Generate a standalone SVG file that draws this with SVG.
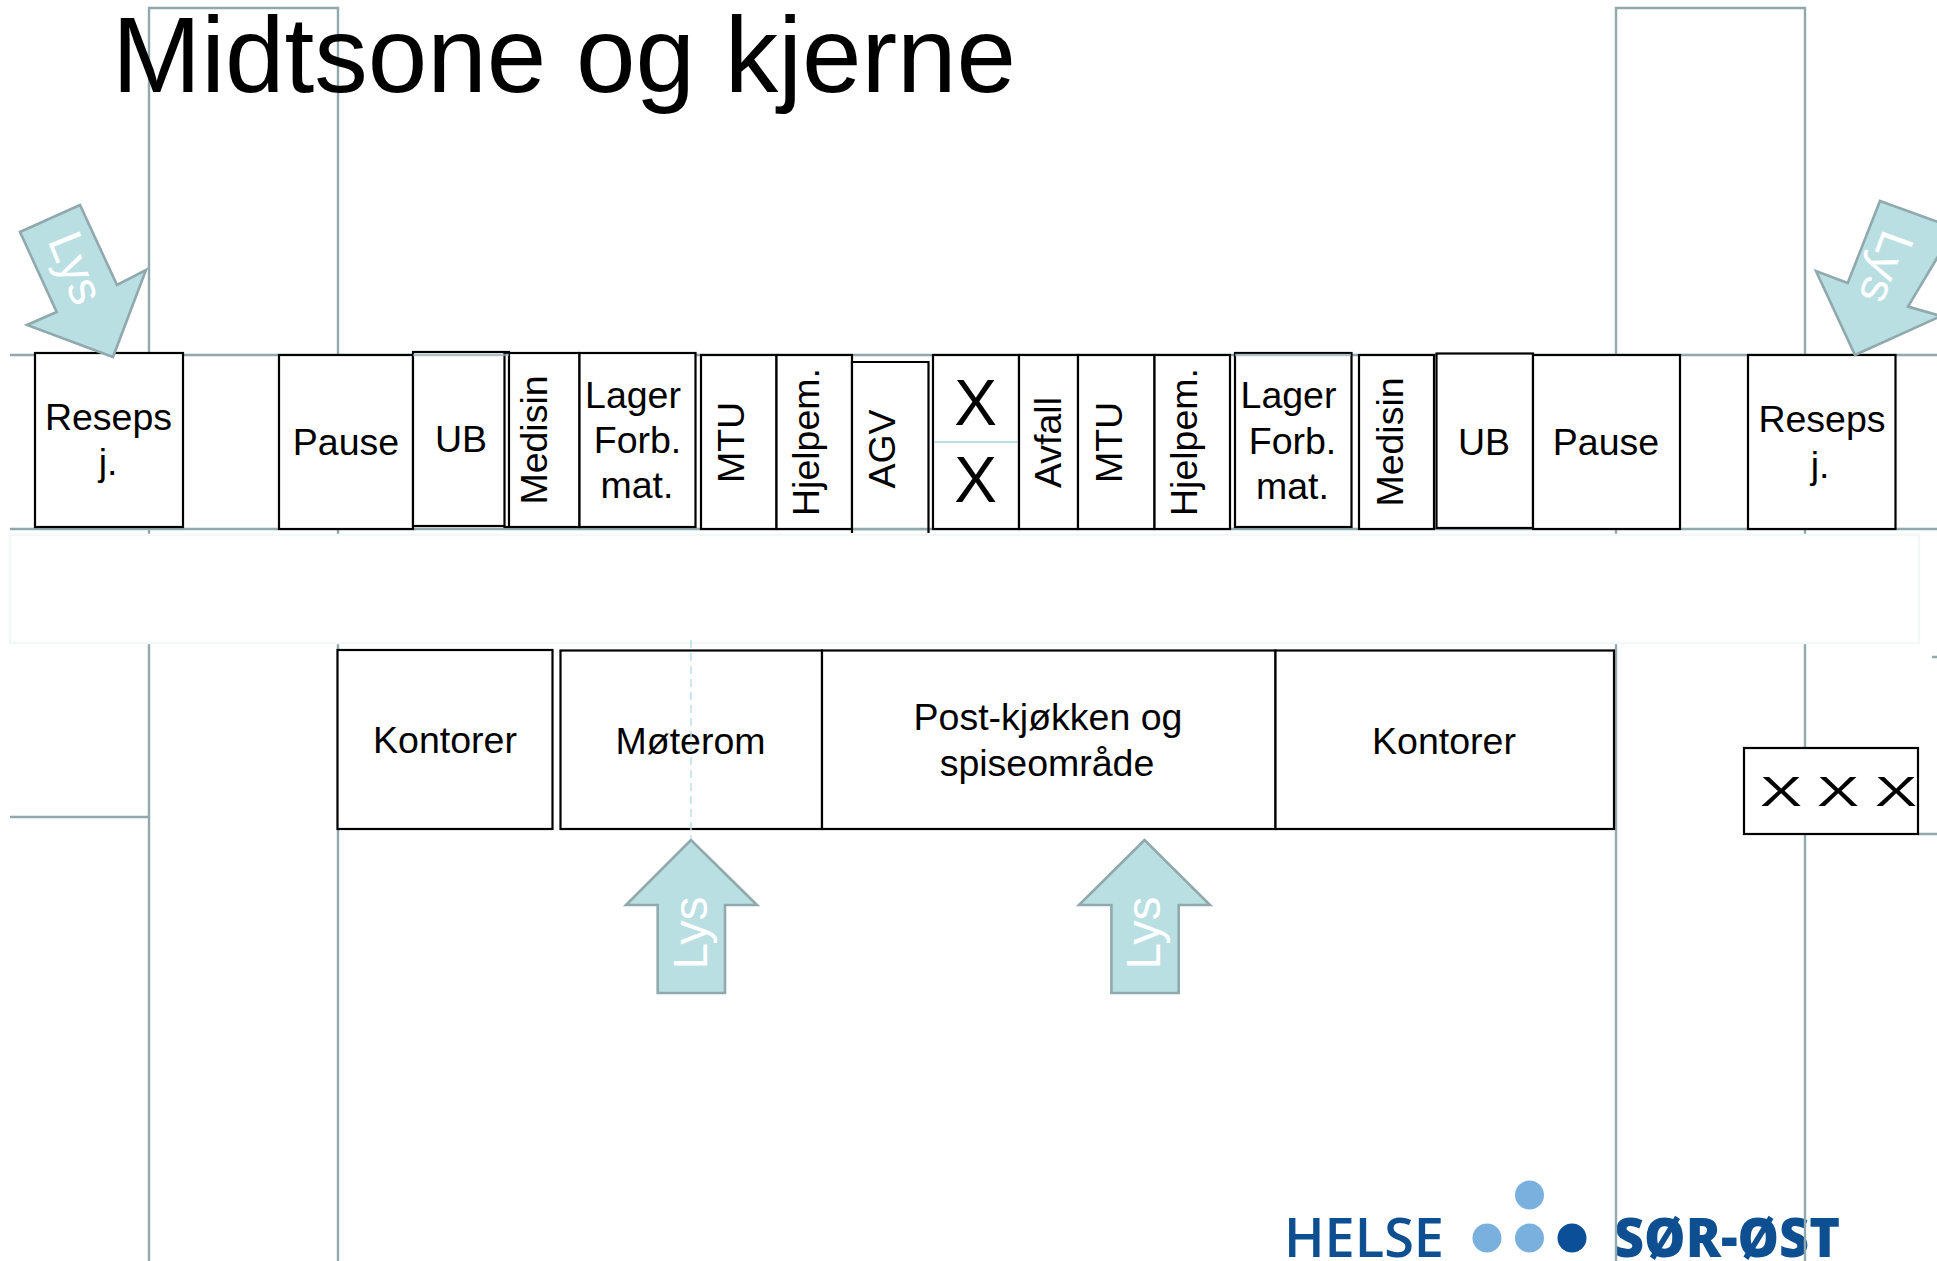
<svg xmlns="http://www.w3.org/2000/svg" width="1937" height="1261" viewBox="0 0 1937 1261">
<style>
text{font-family:"Liberation Sans",Arial,sans-serif;fill:#000;font-size:37.500px}
.c{text-anchor:middle}
.box{fill:#fff;stroke:#000;stroke-width:2.2}
.thin{fill:none;stroke:#000;stroke-width:2.2}
.wall{fill:none;stroke:#8fa9ad;stroke-width:2.4}
.arrow{fill:#b9dfe3;stroke:#8fa9ad;stroke-width:2.6;stroke-linejoin:miter}
.lys{fill:#fff;font-size:48px;text-anchor:middle}
.logo{font-family:"Open Sans","Liberation Sans",sans-serif;fill:#0d4f91;font-size:54px}
</style>
<rect width="1937" height="1261" fill="#fff"/>
<g id="logo">
<text class="logo" x="1284" y="1257" style="font-weight:600" textLength="160" lengthAdjust="spacingAndGlyphs">HELSE</text>
<text class="logo" x="1614" y="1257" style="font-weight:800" textLength="226" lengthAdjust="spacingAndGlyphs">SØR-ØST</text>
<circle cx="1529.500" cy="1195" r="14.500" fill="#7ab0de"/>
<circle cx="1487" cy="1238" r="14.500" fill="#7ab0de"/>
<circle cx="1529.500" cy="1238" r="14.500" fill="#7ab0de"/>
<circle cx="1572" cy="1238" r="14.500" fill="#0a4f97"/>
</g>
<g id="walls">
<path class="wall" d="M149 1261V8H338V1261M1616 1261V8H1805V1261"/>
<path class="wall" d="M10 355H1937M10 529H1937M10 817H149M1918 834H1937M1932 657H1937"/>
</g>
<g id="title"><text x="112" y="92" style="font-size:107px">Midtsone og kjerne</text></g>
<rect id="korridor" x="10" y="535" width="1909" height="108" fill="#fff" stroke="#f1f8f7" stroke-width="2.500"/>
<g id="reseps-v"><rect class="box" x="35" y="353" width="148" height="174"/><text class="c" x="108.500" y="430">Reseps</text><text class="c" x="108" y="475">j.</text></g>
<g id="pause-v"><rect class="box" x="279" y="355" width="134" height="174"/><text class="c" x="346" y="455">Pause</text></g>
<g id="ub-v"><rect class="box" x="413" y="352" width="96" height="174"/><text class="c" x="461" y="452">UB</text></g>
<g id="medisin-v"><rect class="box" x="504.500" y="353" width="75" height="174"/><line x1="509" y1="353" x2="509" y2="527" class="thin"/><text class="c" transform="translate(547 440) rotate(-90)">Medisin</text></g>
<g id="lager-v"><rect class="box" x="579.500" y="353" width="116" height="174"/><text class="c" x="633" y="408">Lager</text><text class="c" x="637.500" y="453">Forb.</text><text class="c" x="637" y="498">mat.</text></g>
<g id="mtu-1"><rect class="box" x="701" y="355" width="75.500" height="174"/><text class="c" transform="translate(744 442.500) rotate(-90)">MTU</text></g>
<g id="hjelpem-1"><rect class="box" x="776.500" y="355" width="75.500" height="174"/><text class="c" transform="translate(818.500 442) rotate(-90)">Hjelpem.</text></g>
<g id="agv"><rect x="852" y="362" width="76.500" height="167" fill="#fff"/><line class="wall" x1="852" y1="529" x2="928.500" y2="529"/><path class="thin" d="M852 533V362H928.500V533"/><text class="c" transform="translate(894.500 449) rotate(-90)">AGV</text></g>
<g id="x-boks"><rect class="box" x="933" y="355" width="86" height="174"/><line x1="934" y1="442" x2="1018" y2="442" stroke="#b9dfe3" stroke-width="2"/><text class="c" x="975.500" y="425" style="font-size:64px">X</text><text class="c" x="975.500" y="502" style="font-size:64px">X</text></g>
<g id="avfall"><rect class="box" x="1019" y="355" width="59" height="174"/><text class="c" transform="translate(1061 442.500) rotate(-90)">Avfall</text></g>
<g id="mtu-2"><rect class="box" x="1078" y="355" width="76.500" height="174"/><text class="c" transform="translate(1122 442.500) rotate(-90)">MTU</text></g>
<g id="hjelpem-2"><rect class="box" x="1154.500" y="355" width="75.500" height="174"/><text class="c" transform="translate(1196.500 442) rotate(-90)">Hjelpem.</text></g>
<g id="lager-h"><rect class="box" x="1235" y="353" width="116.500" height="174"/><text class="c" x="1288.500" y="408">Lager</text><text class="c" x="1292.500" y="454">Forb.</text><text class="c" x="1292.500" y="499">mat.</text></g>
<g id="medisin-h"><rect class="box" x="1359" y="355" width="75" height="174"/><text class="c" transform="translate(1403 442) rotate(-90)">Medisin</text></g>
<g id="ub-h"><rect class="box" x="1436.500" y="353.500" width="96.500" height="174.500"/><text class="c" x="1484" y="455">UB</text></g>
<g id="pause-h"><rect class="box" x="1533" y="355" width="147" height="174"/><text class="c" x="1606" y="455">Pause</text></g>
<g id="reseps-h"><rect class="box" x="1748" y="355" width="147.500" height="174"/><text class="c" x="1822" y="432">Reseps</text><text class="c" x="1820" y="478">j.</text></g>
<path class="wall" d="M413 355H509M1235 355H1351" stroke-opacity=".7"/>
<g id="kontorer-v"><rect class="box" x="337.500" y="650" width="215" height="179"/><text class="c" x="445" y="753">Kontorer</text></g>
<g id="moterom"><rect class="box" x="560.500" y="650.500" width="261.500" height="178.500"/><text class="c" x="690.500" y="754">Møterom</text></g>
<g id="post-kjokken"><rect class="box" x="822" y="650.500" width="453.500" height="178.500"/><text class="c" x="1048" y="730">Post-kjøkken og</text><text class="c" x="1047" y="776">spiseområde</text></g>
<g id="kontorer-h"><rect class="box" x="1275.500" y="650.500" width="338.500" height="178.500"/><text class="c" x="1444" y="754">Kontorer</text></g>
<g id="xxx"><rect class="box" x="1744" y="748" width="174" height="86"/>
<text class="c" transform="translate(1781 806) scale(1.500 1)" style="font-size:42px">X</text>
<text class="c" transform="translate(1838 806) scale(1.500 1)" style="font-size:42px">X</text>
<text class="c" transform="translate(1896 806) scale(1.500 1)" style="font-size:42px">X</text></g>
<line x1="691" y1="640" x2="691" y2="838" stroke="#b9dfe3" stroke-width="1.500" stroke-dasharray="8 5"/>
<g id="connectors">
<g id="lys-1"><polygon class="arrow" points="80,205 20,232 56.700,312 27,325 113,357 146,270 117,285"/><text class="lys" transform="translate(61 274) rotate(68)">Lys</text></g>
<g id="lys-2"><polygon class="arrow" points="1880,201 1955,228 1908,306.600 1941,316 1855,355 1816,271 1847.700,283"/><text class="lys" transform="translate(1871 262) rotate(110)">Lys</text></g>
<g id="lys-3"><polygon class="arrow" points="691,840 626,905 657.700,905 657.700,993 725,993 725,905 757,905"/><text class="lys" transform="translate(707 933) rotate(-90)">Lys</text></g>
<g id="lys-4"><polygon class="arrow" points="1144.600,840 1079,905 1111.400,905 1111.400,993 1178.700,993 1178.700,905 1210,905"/><text class="lys" transform="translate(1160 933) rotate(-90)">Lys</text></g>
</g>
</svg>
